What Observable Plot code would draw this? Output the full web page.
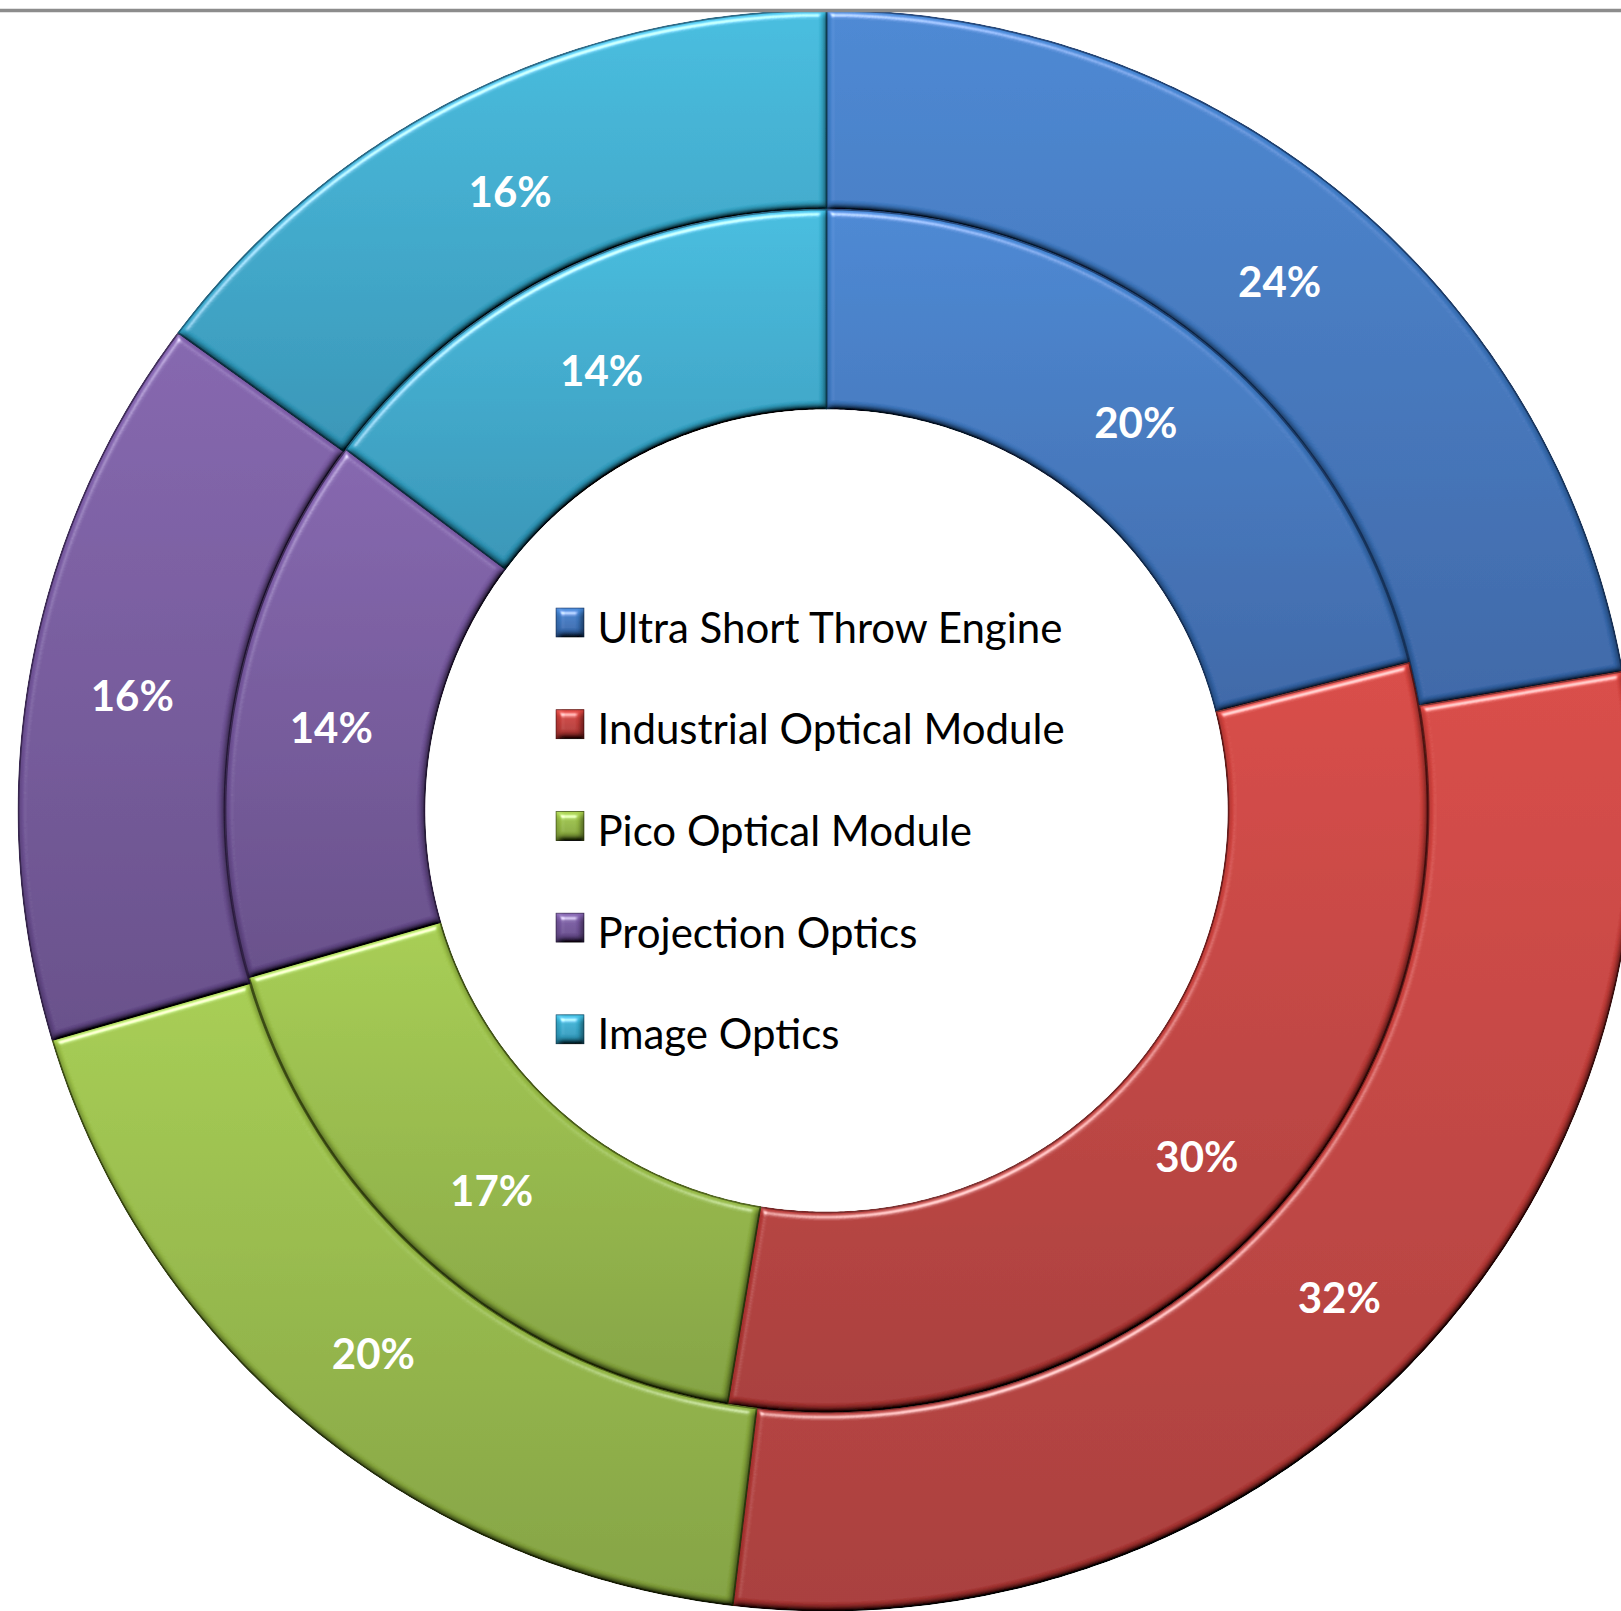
<!DOCTYPE html>
<html><head><meta charset="utf-8">
<script src="https://cdn.jsdelivr.net/npm/d3@7"></script>
<script src="https://cdn.jsdelivr.net/npm/@observablehq/plot@0.6"></script>
<style>html,body{margin:0;padding:0;background:#fff;overflow:hidden;} #chart svg{display:block;}</style>
</head><body><div id="chart"></div>
<script>
const categories = ["Ultra Short Throw Engine", "Industrial Optical Module", "Pico Optical Module", "Projection Optics", "Image Optics"];
const outerValues = [24, 32, 20, 16, 16];
const innerValues = [20, 30, 17, 14, 14];
const lightColors = ["#4689d7", "#dd4641", "#a9d14f", "#8564b1", "#40c0e3"];
const darkColors  = ["#3465a9", "#aa3432", "#84a43b", "#654a8a", "#2d96b9"];
const edgeColors  = ["#22467a", "#762120", "#52671d", "#422e5d", "#1b6380"];

const W = 1621, H = 1611, CX = 826, CY = 810;
const rings = [
  {name: "outer", values: outerValues, r0: 602, r1: 800, sx1: 1.01, rl: 700},
  {name: "inner", values: innerValues, r0: 402, r1: 601, sx1: 1, rl: 500}
];

const slices = [];
const labels = [];
rings.forEach(ring => {
  const total = d3.sum(ring.values);
  let acc = 0;
  ring.values.forEach((v, i) => {
    const a0 = acc / total * 2 * Math.PI, a1 = (acc + v) / total * 2 * Math.PI;
    acc += v;
    const n = Math.max(8, Math.ceil((a1 - a0) / (Math.PI / 360)));
    const id = ring.name + i;
    for (let k = 0; k <= n; k++) { const a = a0 + (a1 - a0) * k / n; slices.push({id, cat: i, x: ring.r1 * ring.sx1 * Math.sin(a), y: ring.r1 * Math.cos(a)}); }
    for (let k = n; k >= 0; k--) { const a = a0 + (a1 - a0) * k / n; slices.push({id, cat: i, x: ring.r0 * Math.sin(a), y: ring.r0 * Math.cos(a)}); }
    const am = (a0 + a1) / 2;
    labels.push({x: ring.rl * 1.007 * Math.sin(am), y: ring.rl * Math.cos(am), text: `${v}%`});
  });
});

const legend = categories.map((c, i) => ({i, c, x1: -270, x2: -242, y1: 173 - i * 101.7, y2: 202 - i * 101.7, tx: -229, ty: 168 - i * 101.7}));

const marks = [];
categories.forEach((c, i) => {
  marks.push(Plot.line(slices.filter(d => d.cat === i), {x: "x", y: "y", z: "id", curve: "linear-closed", fill: `url(#grad${i})`, stroke: edgeColors[i], strokeWidth: 1.8, strokeLinejoin: "round"}));
});
marks.push(Plot.text(labels, {x: "x", y: "y", dy: 9, text: "text", fill: "white", fontWeight: "bold", fontSize: 42, fontFamily: "Lato"}));
legend.forEach((d, i) => {
  marks.push(Plot.rect([d], {x1: "x1", x2: "x2", y1: "y1", y2: "y2", fill: `url(#grad${i})`, stroke: edgeColors[i], strokeWidth: 1}));
});
marks.push(Plot.text(legend, {x: "tx", y: "ty", text: "c", textAnchor: "start", lineAnchor: "bottom", fontSize: 42, fontFamily: "Lato", fill: "#000"}));
marks.push(Plot.ruleY([800], {stroke: "#8c8c8c", strokeWidth: 3.5}));

const chart = Plot.plot({
  width: W, height: H,
  marginTop: 0, marginRight: 0, marginBottom: 0, marginLeft: 0,
  x: {domain: [-CX, W - CX], range: [0, W], axis: null},
  y: {domain: [CY - H, CY], range: [H, 0], axis: null},
  style: {background: "#fff", overflow: "hidden"},
  marks
});

const svg = d3.select(chart);
const defs = svg.insert("defs", ":first-child");
categories.forEach((c, i) => {
  const g = defs.append("linearGradient").attr("id", `grad${i}`).attr("x1", 0).attr("y1", 0).attr("x2", 0).attr("y2", 1);
  g.append("stop").attr("offset", "0%").attr("stop-color", lightColors[i]);
  g.append("stop").attr("offset", "100%").attr("stop-color", darkColors[i]);
});
const f = defs.append("filter").attr("id", "bevel").attr("x", "-5%").attr("y", "-5%").attr("width", "110%").attr("height", "110%");
f.append("feGaussianBlur").attr("in", "SourceAlpha").attr("stdDeviation", 3.5).attr("result", "blur");
const spec = f.append("feSpecularLighting").attr("in", "blur").attr("surfaceScale", 7).attr("specularConstant", 1).attr("specularExponent", 28).attr("lighting-color", "#ffffff").attr("result", "spec");
spec.append("feDistantLight").attr("azimuth", 250).attr("elevation", 35);
f.append("feComposite").attr("in", "spec").attr("in2", "SourceAlpha").attr("operator", "in").attr("result", "specOut");
const diff = f.append("feDiffuseLighting").attr("in", "blur").attr("surfaceScale", 7).attr("diffuseConstant", 1).attr("lighting-color", "#ffffff").attr("result", "diff");
diff.append("feDistantLight").attr("azimuth", 250).attr("elevation", 55);
f.append("feComposite").attr("in", "SourceGraphic").attr("in2", "diff").attr("operator", "arithmetic").attr("k1", 1.15).attr("k2", 0).attr("k3", 0).attr("k4", 0).attr("result", "shaded");
f.append("feComposite").attr("in", "shaded").attr("in2", "specOut").attr("operator", "arithmetic").attr("k1", 0).attr("k2", 1).attr("k3", 0.6).attr("k4", 0).attr("result", "lit");
f.append("feComposite").attr("in", "lit").attr("in2", "SourceAlpha").attr("operator", "in");
svg.selectAll('g[aria-label="line"] path, g[aria-label="rect"] rect').attr("filter", "url(#bevel)");

document.getElementById("chart").appendChild(chart);
</script>
</body></html>
